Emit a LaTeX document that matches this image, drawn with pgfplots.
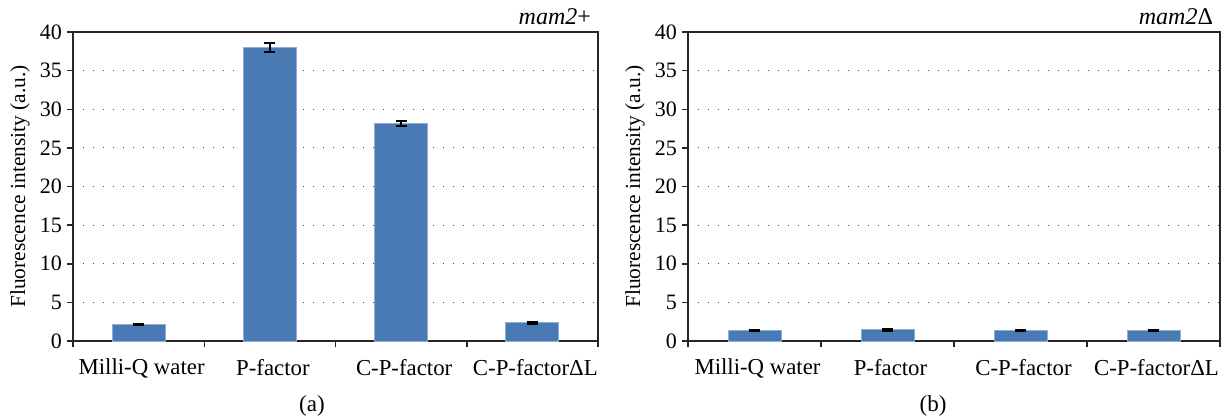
\documentclass[border=0pt]{standalone}
\usepackage{pgfplots}
\pgfplotsset{compat=1.18}
\usepackage{fontspec}
\setmainfont{Liberation Serif}

\definecolor{barblue}{RGB}{74,122,180}
\definecolor{baredge}{RGB}{140,172,212}

% mam2+ strain
\pgfplotstableread{
x y err
0 2.15 0.1
1 38.0 0.55
2 28.15 0.3
3 2.35 0.1
}\plusdata
% mam2 deletion strain
\pgfplotstableread{
x y err
0 1.38 0.08
1 1.45 0.12
2 1.32 0.08
3 1.35 0.08
}\deltadata

\pgfplotsset{
  fluo/.style={
    scale only axis,
    height=154.5pt,
    ymin=0, ymax=40,
    ytick={0,5,...,40},
    xmin=-0.5, xmax=3.5,
    xtick={0,1,2,3},
    xticklabels={Milli-Q water, P-factor, C-P-factor, C-P-factorΔL},
    minor xtick={-0.5,0.5,1.5,2.5,3.5},
    major x tick style={draw=none},
    minor x tick style={line width=0.75pt},
    minor tick length=3pt,
    major tick length=3pt,
    tick align=outside,
    xtick pos=lower, ytick pos=left,
    axis line style={line width=0.75pt, black!85},
    every tick/.style={black!85, line width=0.75pt},
    ymajorgrids,
    major grid style={black!70, line width=0.6pt, dash pattern=on 0.6pt off 4.4pt},
    /pgf/number format/assume math mode=true,
    yticklabel style={font=\rmfamily\fontsize{11}{12}\selectfont, xshift=1pt},
    xticklabel style={font=\rmfamily\fontsize{11.4}{13}\selectfont, yshift=-2.5pt, xshift=1.5pt},
    ylabel={Fluorescence intensity (a.u.)},
    ylabel style={font=\rmfamily\fontsize{10.7}{12}\selectfont, anchor=center},
  },
  fbar/.style={
    ybar, bar width=26.5pt, fill=barblue, draw=baredge, line width=0.4pt,
    error bars/.cd, y dir=both, y explicit,
    error bar style={black, line width=0.9pt},
    error mark options={black, rotate=90, mark size=2.8pt, line width=0.9pt},
  },
}

\begin{document}
\begin{tikzpicture}
\path[use as bounding box] (-36.5pt,-39pt) rectangle (576.5pt,170.5pt);

\begin{axis}[fluo, width=262.5pt, at={(0pt,0pt)}, anchor=south west, name=left,
  ylabel style={at={([xshift=-26.5pt]axis description cs:0,0.5)}, rotate=0}]
\addplot[fbar] table[x=x, y=y, y error=err] {\plusdata};
\end{axis}
\node[anchor=base east, font=\rmfamily\fontsize{12}{14}\selectfont] at (262.5pt,158.5pt) {\textit{mam2}+};
\node[anchor=base, font=\rmfamily\fontsize{11.5}{13}\selectfont] at (119.5pt,-35pt) {(a)};

\begin{axis}[fluo, width=266pt, at={(307.5pt,0pt)}, anchor=south west, name=right,
  ylabel style={at={([xshift=-26.5pt]axis description cs:0,0.5)}, rotate=0}]
\addplot[fbar] table[x=x, y=y, y error=err] {\deltadata};
\end{axis}
\node[anchor=base east, font=\rmfamily\fontsize{12}{14}\selectfont] at (573.5pt,158.5pt) {\textit{mam2}Δ};
\node[anchor=base, font=\rmfamily\fontsize{11.5}{13}\selectfont] at (430pt,-35pt) {(b)};
\end{tikzpicture}
\end{document}
